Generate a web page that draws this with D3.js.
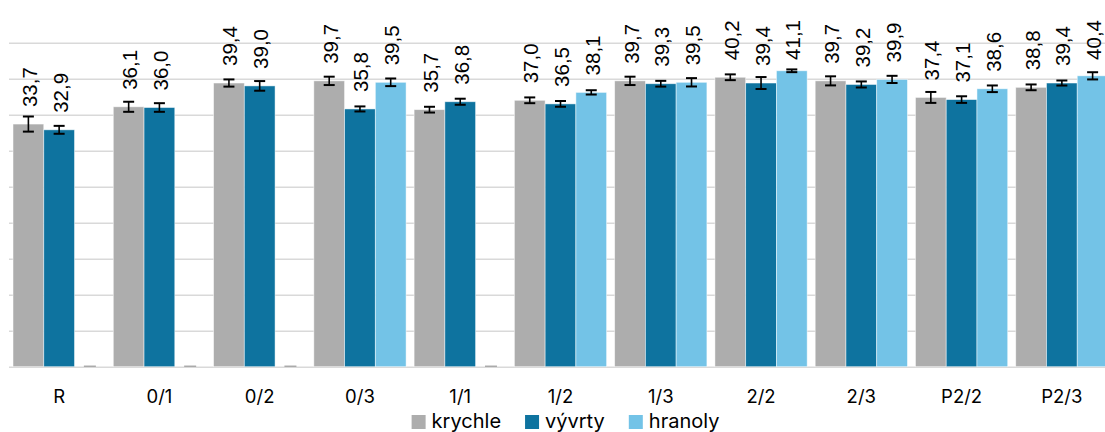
<!DOCTYPE html>
<html>
<head>
<meta charset="utf-8">
<script src="https://cdn.jsdelivr.net/npm/d3@7"></script>
<style>
  html, body { margin: 0; padding: 0; background: #fff; }
  svg { display: block; }
</style>
</head>
<body>
<svg id="chart" width="1105" height="432"></svg>
<script>
const categories = ["R", "0/1", "0/2", "0/3", "1/1", "1/2", "1/3", "2/2", "2/3", "P2/2", "P2/3"];
const seriesNames = ["krychle", "vývrty", "hranoly"];
const krychle = [33.7, 36.1, 39.4, 39.7, 35.7, 37.0, 39.7, 40.2, 39.7, 37.4, 38.8];
const vyvrty  = [32.9, 36.0, 39.0, 35.8, 36.8, 36.5, 39.3, 39.4, 39.2, 37.1, 39.4];
const hranoly = [null, null, null, 39.5, null, 38.1, 39.5, 41.1, 39.9, 38.6, 40.4];
const krychleErr = [1.05, 0.7, 0.5, 0.58, 0.4, 0.4, 0.58, 0.4, 0.63, 0.76, 0.4];
const vyvrtyErr  = [0.55, 0.6, 0.67, 0.35, 0.42, 0.4, 0.4, 0.83, 0.42, 0.46, 0.35];
const hranolyErr = [null, null, null, 0.53, null, 0.3, 0.58, 0.19, 0.5, 0.46, 0.5];
const yTicks = [0, 5, 10, 15, 20, 25, 30, 35, 40, 45];
const colors = ["#adadad", "#0e739f", "#73c3e7"];

const values = [krychle, vyvrty, hranoly];
const errors = [krychleErr, vyvrtyErr, hranolyErr];

const svg = d3.select("#chart");

const y = d3.scaleLinear().domain([0, 45]).range([366.7, 42.7]);
const x0 = d3.scaleBand().domain(categories).range([9, 1112]).paddingInner(0.08).paddingOuter(0.04);
const x1 = d3.scaleBand().domain(seriesNames).range([0, x0.bandwidth()]);

// gridlines
const yAxis = d3.axisLeft(y).tickValues(yTicks).tickSize(-(1112 - 9)).tickFormat("");
const g = svg.append("g").attr("transform", "translate(9,0)").call(yAxis);
g.select(".domain").remove();
g.selectAll(".tick line").attr("stroke", "#d9d9d9").attr("stroke-width", 1.5);

// rows
const rows = [];
categories.forEach((c, i) => {
  seriesNames.forEach((s, j) => {
    rows.push({ cat: c, ser: s, j, v: values[j][i], e: errors[j][i] });
  });
});

const bars = svg.append("g");
bars.selectAll("rect").data(rows.filter(d => d.v != null)).join("rect")
  .attr("x", d => x0(d.cat) + x1(d.ser))
  .attr("width", x1.bandwidth())
  .attr("y", d => y(d.v))
  .attr("height", d => y(0) - y(d.v))
  .attr("fill", d => colors[d.j])
  .attr("stroke", "rgba(255,255,255,0.6)")
  .attr("stroke-width", 0.8);

// error bars
const capW = 11;
const eb = svg.append("g").attr("stroke", "#000").attr("stroke-width", 2);
rows.forEach(d => {
  const cx = x0(d.cat) + x1(d.ser) + x1.bandwidth() / 2;
  if (d.v == null) {
    svg.append("line")
      .attr("x1", cx - capW / 2 - 0.5).attr("x2", cx + capW / 2 + 0.5)
      .attr("y1", y(0) - 0.5).attr("y2", y(0) - 0.5)
      .attr("stroke", "#9a9a9a").attr("stroke-width", 1.2);
    return;
  }
  const top = y(d.v + d.e), bot = y(d.v - d.e);
  eb.append("line").attr("x1", cx).attr("x2", cx).attr("y1", top).attr("y2", bot).attr("stroke-width", 1.6);
  eb.append("line").attr("x1", cx - capW / 2).attr("x2", cx + capW / 2).attr("y1", top).attr("y2", top);
  eb.append("line").attr("x1", cx - capW / 2).attr("x2", cx + capW / 2).attr("y1", bot).attr("y2", bot);
});

// data labels
const fmt = v => d3.format(".1f")(v).replace(".", ",");
const lab = svg.append("g");
rows.filter(d => d.v != null).forEach(d => {
  const cx = x0(d.cat) + x1(d.ser) + x1.bandwidth() / 2;
  const t = lab.append("text")
    .attr("font-family", "'Liberation Sans', Arial, sans-serif")
    .attr("font-size", 20.5)
    .attr("fill", "#000")
    .attr("text-anchor", "start")
    .attr("dominant-baseline", "central")
    .text(fmt(d.v));
  const len = t.node().getComputedTextLength();
  const yStart = Math.max(y(d.v) - 17, 20 + len);
  t.attr("transform", `translate(${cx + 1},${yStart}) rotate(-90)`);
});

// category labels
svg.append("g").selectAll("text").data(categories).join("text")
  .attr("x", d => x0(d) + x0.bandwidth() / 2)
  .attr("y", 402.5)
  .attr("text-anchor", "middle")
  .attr("font-family", "Inter, sans-serif")
  .attr("font-size", 18.5)
  .attr("fill", "#000")
  .text(d => d);

// legend
const leg = svg.append("g");
let xPos = 0;
seriesNames.forEach((s, j) => {
  const gi = leg.append("g");
  gi.append("rect").attr("x", xPos).attr("y", 415).attr("width", 14).attr("height", 14).attr("fill", colors[j]);
  const t = gi.append("text").attr("x", xPos + 20).attr("y", 428)
    .attr("font-family", "Inter, sans-serif").attr("font-size", 20).attr("fill", "#000").text(s);
  const w = t.node().getComputedTextLength();
  xPos += 20 + w + 24;
});
const totalW = xPos - 24;
leg.attr("transform", `translate(${565.5 - totalW / 2},0)`);
</script>
</body>
</html>
